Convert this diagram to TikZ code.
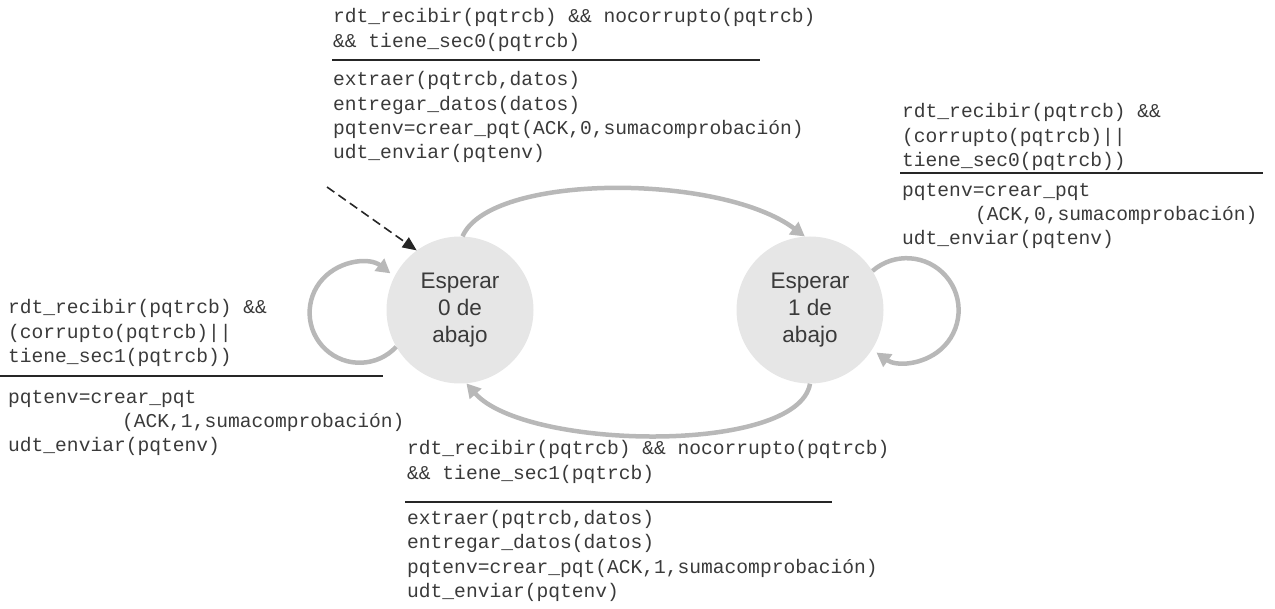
\documentclass[tikz,border=0pt]{standalone}
\usepackage{fontspec}
\newfontfamily\monof{Liberation Mono}
\newfontfamily\sansf{Liberation Sans}
\usetikzlibrary{arrows.meta}
\definecolor{txt}{HTML}{3A3A3A}
\definecolor{arcgray}{HTML}{B8B8B8}
\definecolor{statefill}{HTML}{E6E6E6}
\begin{document}
\begin{tikzpicture}[x=1pt,y=-1pt,
  state/.style={circle, fill=statefill, minimum size=147pt, inner sep=0pt, align=center,
    font=\sansf\fontsize{22.5pt}{27pt}\selectfont, text=txt},
  code/.style={anchor=base west, inner sep=0pt, align=left,
    font=\monof\fontsize{19.6pt}{24.3pt}\selectfont, text=txt},
  sep/.style={line width=1.4pt, draw=black!85},
  trans/.style={draw=arcgray, line width=4.5pt, -{Triangle[length=14pt,width=15pt]}},
  init/.style={draw=black!85, line width=1.6pt, dash pattern=on 9pt off 5pt,
    -{Triangle[length=14pt,width=12pt]}}
]
\useasboundingbox (0,0) rectangle (1275,609);

% states
\node[state] (s0) at (460,310) {Esperar\\0 de\\abajo};
\node[state] (s1) at (810,310) {Esperar\\1 de\\abajo};

% top block (anchor = baseline of last line)
\node[code] (c0) at (333,47.3) {rdt\_recibir(pqtrcb) \&\& nocorrupto(pqtrcb)\\\&\& tiene\_sec0(pqtrcb)};
\draw[sep] (332,60) -- (760,60);
\node[code] (a0) at (333,158.9) {extraer(pqtrcb,datos)\\entregar\_datos(datos)\\pqtenv=crear\_pqt(ACK,0,sumacomprobación)\\udt\_enviar(pqtenv)};

% right block
\node[code] (c1) at (902,166.6) {rdt\_recibir(pqtrcb) \&\&\\(corrupto(pqtrcb)||\\tiene\_sec0(pqtrcb))};
\draw[sep] (900,173) -- (1263,173);
\node[code] (a1) at (902,245) {pqtenv=crear\_pqt\\\hspace*{73pt}(ACK,0,sumacomprobación)\\udt\_enviar(pqtenv)};

% left block
\node[code] (c2) at (8,362.6) {rdt\_recibir(pqtrcb) \&\&\\(corrupto(pqtrcb)||\\tiene\_sec1(pqtrcb))};
\draw[sep] (0,376) -- (383,376);
\node[code] (a2) at (8,451.6) {pqtenv=crear\_pqt\\\hspace*{114pt}(ACK,1,sumacomprobación)\\udt\_enviar(pqtenv)};

% bottom block
\node[code] (c3) at (407,479.3) {rdt\_recibir(pqtrcb) \&\& nocorrupto(pqtrcb)\\\&\& tiene\_sec1(pqtrcb)};
\draw[sep] (405,502) -- (832,502);
\node[code] (a3) at (407,597.5) {extraer(pqtrcb,datos)\\entregar\_datos(datos)\\pqtenv=crear\_pqt(ACK,1,sumacomprobación)\\udt\_enviar(pqtenv)};

% transitions
\coordinate (start) at (327,187);
\draw[init] (start) -- (s0.126);
\draw[trans] (s0.88) .. controls (490,173) and (720,173) .. (s1.94);
\draw[trans] (s1.270) .. controls (798,455) and (525,450) .. (s0.275);
\draw[trans] (s0.210) arc[start angle=43, end angle=308, radius=50];
\draw[trans] (s1.32) arc[start angle=229, end angle=485.5, radius=52];
\end{tikzpicture}
\end{document}
